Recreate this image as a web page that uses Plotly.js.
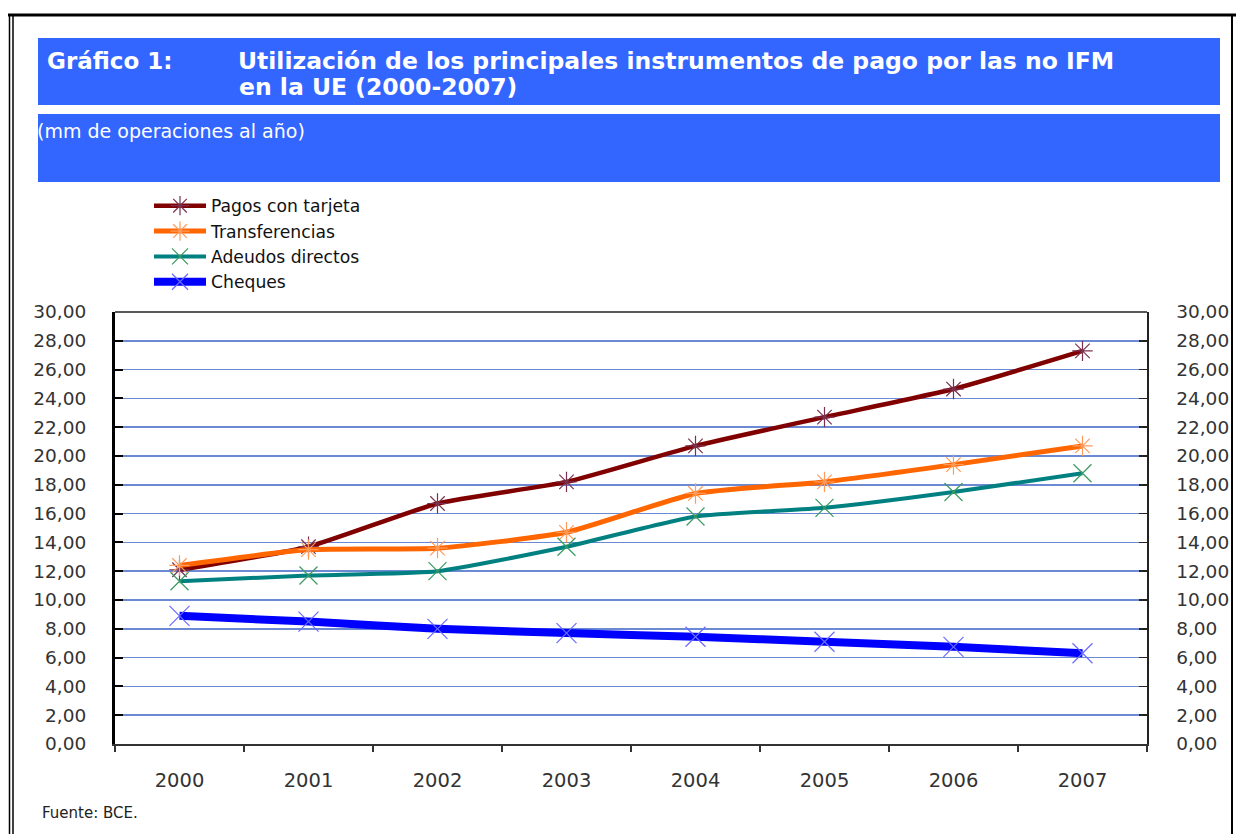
<!DOCTYPE html>
<html>
<head>
<meta charset="utf-8">
<script src="https://cdn.plot.ly/plotly-3.0.1.min.js"></script>
<style>
html,body{margin:0;padding:0;background:#fff;}
#chart{width:1236px;height:834px;}
</style>
</head>
<body>
<div id="chart"></div>
<script>
// ---- data ----
var years = ['2000', '2001', '2002', '2003', '2004', '2005', '2006', '2007'];
var pagosTarjeta = [12.1, 13.7, 16.7, 18.2, 20.7, 22.7, 24.65, 27.3];
var transferencias = [12.4, 13.5, 13.6, 14.7, 17.4, 18.2, 19.4, 20.7];
var adeudosDirectos = [11.3, 11.7, 12.0, 13.7, 15.8, 16.4, 17.5, 18.8];
var cheques = [8.9, 8.5, 8.0, 7.7, 7.45, 7.1, 6.75, 6.3];
var seriesNames = ['Pagos con tarjeta', 'Transferencias', 'Adeudos directos', 'Cheques'];
var yTickVals = [0, 2, 4, 6, 8, 10, 12, 14, 16, 18, 20, 22, 24, 26, 28, 30];

var titleLabel = 'Gráfico 1:';
var titleLine1 = 'Utilización de los principales instrumentos de pago por las no IFM';
var titleLine2 = 'en la UE (2000-2007)';
var subtitleText = '(mm de operaciones al año)';
var sourceText = 'Fuente: BCE.';

// ---- layout helpers (pixel -> paper) ----
var W = 1236, H = 834;
var mL = 115, mR = 89, mT = 312, mB = 90;
var pw = W - mL - mR, ph = H - mT - mB;
function px(x) { return (x - mL) / pw; }
function py(y) { return (H - mB - y) / ph; }

var FONT = 'DejaVu Sans, Liberation Sans, Arial, sans-serif';
var BLUE = '#3366ff';

function mk(name, y, lineColor, lineWidth, sym, symColor, symSize, grp, yax) {
  return {
    type: 'scatter', mode: 'lines+markers', name: name, x: years, y: y,
    legendgroup: grp, yaxis: yax || 'y',
    line: {color: lineColor, width: lineWidth, shape: 'spline', smoothing: 0.5},
    marker: {symbol: sym, size: symSize, color: symColor, line: {color: symColor, width: 1.2}},
    hoverinfo: 'x+y+name'
  };
}

var traces = [
  mk(seriesNames[0], pagosTarjeta, '#800000', 4.5, 'asterisk-open', '#7a3050', 17, 'g1'),
  mk(seriesNames[1], transferencias, '#ff6600', 5, 'asterisk-open', '#ff9a5a', 17, 'g2'),
  mk(seriesNames[2], adeudosDirectos, '#008080', 4, 'x-thin-open', '#3a9a60', 18, 'g3'),
  mk(seriesNames[3], cheques, '#0000ff', 8, 'x-thin-open', '#6a6aff', 20, 'g4', 'y2')
];

var shapes = [
  // blue header bands
  {type: 'rect', xref: 'paper', yref: 'paper', x0: px(38), x1: px(1220), y0: py(38), y1: py(105),
   fillcolor: BLUE, line: {width: 0}, layer: 'below'},
  {type: 'rect', xref: 'paper', yref: 'paper', x0: px(38), x1: px(1220), y0: py(114), y1: py(182),
   fillcolor: BLUE, line: {width: 0}, layer: 'below'},
  // outer frame
  {type: 'line', xref: 'paper', yref: 'paper', x0: px(8), x1: px(1236), y0: py(15), y1: py(15),
   line: {color: '#000', width: 3}},
  {type: 'line', xref: 'paper', yref: 'paper', x0: px(9.5), x1: px(9.5), y0: py(15), y1: py(834),
   line: {color: '#000', width: 1.5}},
  {type: 'line', xref: 'paper', yref: 'paper', x0: px(13), x1: px(13), y0: py(15), y1: py(834),
   line: {color: '#000', width: 1.5}},
  {type: 'line', xref: 'paper', yref: 'paper', x0: px(1232), x1: px(1232), y0: py(15), y1: py(834),
   line: {color: '#000', width: 2}},
  // top border of plot area
  {type: 'line', xref: 'paper', yref: 'paper', x0: 0, x1: 1, y0: 1, y1: 1,
   line: {color: '#222', width: 1.5}}
];

var annotations = [
  {xref: 'paper', yref: 'paper', x: px(45), y: py(61), xanchor: 'left', yanchor: 'middle',
   text: '<b>' + titleLabel + '</b>', showarrow: false,
   font: {family: FONT, size: 23, color: '#ffffff'}},
  {xref: 'paper', yref: 'paper', x: px(236), y: py(61), xanchor: 'left', yanchor: 'middle',
   text: '<b>' + titleLine1 + '</b>', showarrow: false,
   font: {family: FONT, size: 23.5, color: '#ffffff'}},
  {xref: 'paper', yref: 'paper', x: px(237), y: py(87), xanchor: 'left', yanchor: 'middle',
   text: '<b>' + titleLine2 + '</b>', showarrow: false,
   font: {family: FONT, size: 23.5, color: '#ffffff'}},
  {xref: 'paper', yref: 'paper', x: px(35), y: py(131), xanchor: 'left', yanchor: 'middle',
   text: subtitleText, showarrow: false,
   font: {family: FONT, size: 19, color: '#ffffff'}},
  {xref: 'paper', yref: 'paper', x: px(40), y: py(813), xanchor: 'left', yanchor: 'middle',
   text: sourceText, showarrow: false,
   font: {family: FONT, size: 15, color: '#222'}}
];

var yTickFont = {family: FONT, size: 18.5, color: '#333'};
var xTickFont = {family: FONT, size: 19.5, color: '#333'};

var layout = {
  width: W, height: H,
  margin: {l: mL, r: mR, t: mT, b: mB, pad: 0},
  paper_bgcolor: '#ffffff', plot_bgcolor: '#ffffff',
  separators: ',.',
  showlegend: true,
  legend: {
    x: px(149), y: py(188), xanchor: 'left', yanchor: 'top',
    bgcolor: 'rgba(0,0,0,0)', borderwidth: 0,
    font: {family: FONT, size: 17.2, color: '#111'},
    itemwidth: 52, tracegroupgap: 0, traceorder: 'normal'
  },
  xaxis: {
    type: 'category', range: [-0.5, 7.5],
    showline: true, linecolor: '#333', linewidth: 2,
    ticks: 'outside', ticklen: 6, tickcolor: '#333', tickwidth: 1.5,
    tickson: 'boundaries', showgrid: false, zeroline: false,
    tickfont: xTickFont, ticklabelstandoff: 18
  },
  yaxis: {
    range: [0, 30], tickvals: yTickVals, tickformat: '.2f',
    showline: true, linecolor: '#000', linewidth: 3,
    ticks: 'inside', ticklen: 8, tickcolor: '#000', tickwidth: 2,
    showgrid: true, gridcolor: '#6c8ad4', gridwidth: 1.5, zeroline: false,
    tickfont: yTickFont, ticklabelstandoff: 22
  },
  yaxis2: {
    overlaying: 'y', side: 'right', anchor: 'x', matches: 'y',
    range: [0, 30], tickvals: yTickVals, tickformat: '.2f',
    showline: true, linecolor: '#222', linewidth: 1.5,
    ticks: 'inside', ticklen: 8, tickcolor: '#222', tickwidth: 1.5,
    showgrid: false, zeroline: false,
    tickfont: yTickFont, ticklabelstandoff: 24
  },
  shapes: shapes,
  annotations: annotations
};

Plotly.newPlot('chart', traces, layout, {displayModeBar: false, staticPlot: true});
</script>
</body>
</html>
